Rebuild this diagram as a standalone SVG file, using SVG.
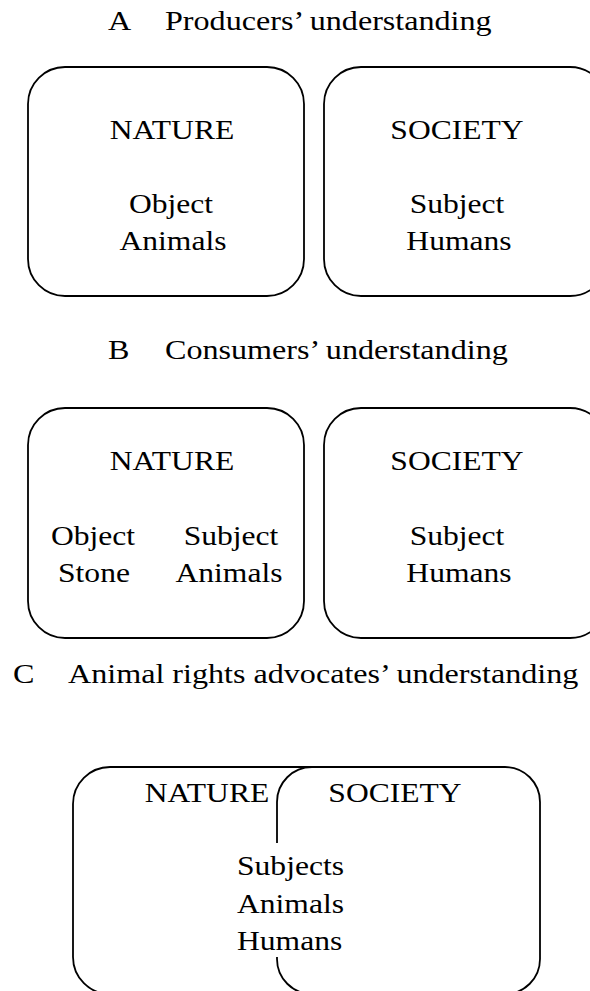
<svg xmlns="http://www.w3.org/2000/svg" width="590" height="991" viewBox="0 0 590 991">
<style>
text { font-family: "Liberation Serif", "Times New Roman", serif; font-size: 27px; fill: #000; }
.m { text-anchor: middle; }
.box { fill: #fff; stroke: #000; stroke-width: 1.8; }
</style>
<rect width="590" height="991" fill="#fff"/>
<g id="titleA"><text transform="translate(108 30) scale(1.19 1)">A</text><text transform="translate(165 30) scale(1.19 1)">Producers’ understanding</text></g>
<g id="A-nature"><rect class="box" x="28" y="67" width="276" height="229" rx="37"/><text class="m" transform="translate(172 139) scale(1.17 1)">NATURE</text><text class="m" transform="translate(171 213) scale(1.17 1)">Object</text><text class="m" transform="translate(173 250) scale(1.17 1)">Animals</text></g>
<g id="A-society"><rect class="box" x="324" y="67" width="283" height="229" rx="37"/><text class="m" transform="translate(457 139) scale(1.17 1)">SOCIETY</text><text class="m" transform="translate(457 213) scale(1.17 1)">Subject</text><text class="m" transform="translate(459 250) scale(1.17 1)">Humans</text></g>
<g id="titleB"><text transform="translate(108 359) scale(1.19 1)">B</text><text transform="translate(165 359) scale(1.19 1)">Consumers’ understanding</text></g>
<g id="B-nature"><rect class="box" x="28" y="408" width="276" height="230" rx="37"/><text class="m" transform="translate(172 470) scale(1.17 1)">NATURE</text><text class="m" transform="translate(93 545) scale(1.17 1)">Object</text><text class="m" transform="translate(94 582) scale(1.17 1)">Stone</text><text class="m" transform="translate(231 545) scale(1.17 1)">Subject</text><text class="m" transform="translate(229 582) scale(1.17 1)">Animals</text></g>
<g id="B-society"><rect class="box" x="324" y="408" width="283" height="230" rx="37"/><text class="m" transform="translate(457 470) scale(1.17 1)">SOCIETY</text><text class="m" transform="translate(457 545) scale(1.17 1)">Subject</text><text class="m" transform="translate(459 582) scale(1.17 1)">Humans</text></g>
<g id="titleC"><text transform="translate(13 683) scale(1.19 1)">C</text><text transform="translate(68 683) scale(1.19 1)">Animal rights advocates’ understanding</text></g>
<g id="C-nature"><rect class="box" x="73" y="767" width="330" height="227" rx="37"/><text class="m" transform="translate(207 802) scale(1.17 1)">NATURE</text></g>
<g id="C-society"><rect class="box" x="277" y="767" width="263" height="227" rx="35"/><text class="m" transform="translate(395 802) scale(1.17 1)">SOCIETY</text></g>
<g id="C-shared"><rect x="236" y="843" width="109" height="114" fill="#fff"/><text transform="translate(237 875) scale(1.17 1)">Subjects</text><text transform="translate(237 913) scale(1.17 1)">Animals</text><text transform="translate(237 950) scale(1.17 1)">Humans</text></g>
</svg>
